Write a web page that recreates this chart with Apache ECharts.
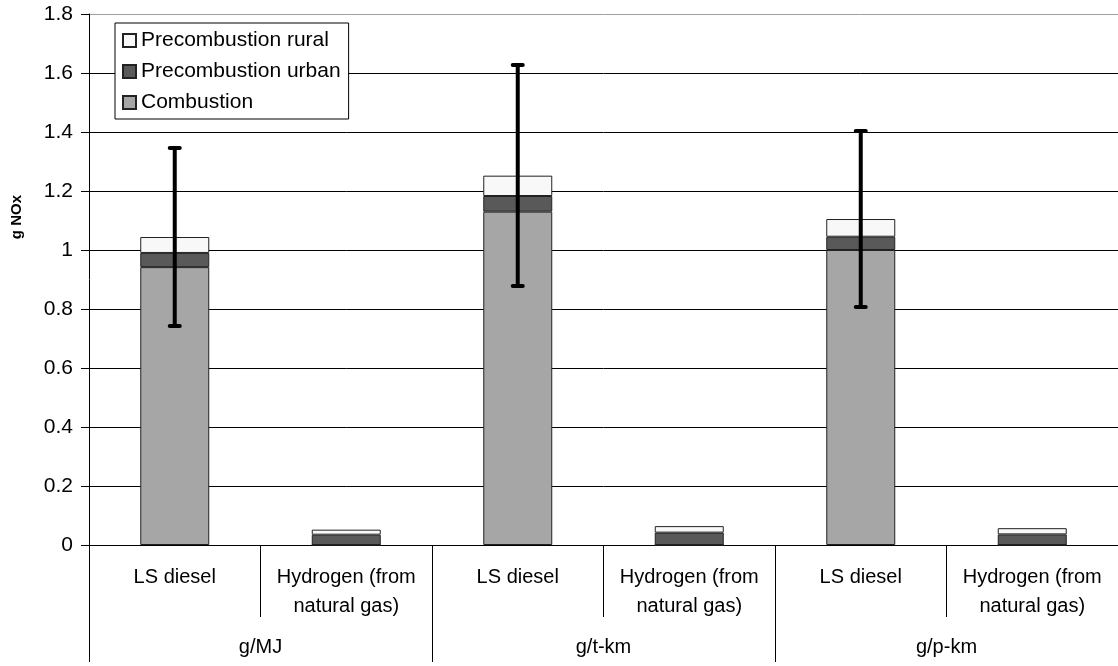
<!DOCTYPE html>
<html>
<head>
<meta charset="utf-8">
<script src="https://cdn.jsdelivr.net/npm/echarts@6/dist/echarts.min.js"></script>
<style>html,body{margin:0;padding:0;background:#fff}#c{width:1118px;height:666px}</style>
</head>
<body>
<div id="c"></div>
<script>
const categories = ['LS diesel', 'Hydrogen (from\nnatural gas)', 'LS diesel', 'Hydrogen (from\nnatural gas)', 'LS diesel', 'Hydrogen (from\nnatural gas)'];
const groups = ['g/MJ', 'g/t-km', 'g/p-km'];
const combustion = [0.942, 0, 1.130, 0, 1.000, 0];
const precombUrban = [0.048, 0.035, 0.053, 0.042, 0.045, 0.036];
const precombRural = [0.054, 0.017, 0.069, 0.022, 0.060, 0.021];
const errLow = [0.742, null, 0.878, null, 0.807, null];
const errHigh = [1.346, null, 1.627, null, 1.403, null];
const yTicks = [0, 0.2, 0.4, 0.6, 0.8, 1, 1.2, 1.4, 1.6, 1.8];

const font = 'Liberation Sans, Arial, sans-serif';
const chart = echarts.init(document.getElementById('c'), null, {renderer: 'canvas'});

const errData = categories.map((c, i) => [i, errLow[i], errHigh[i]]).filter(d => d[1] != null);

const barStyle = (color) => ({color: color, borderColor: '#222', borderWidth: 1});

chart.setOption({
  animation: false,
  backgroundColor: '#fff',
  textStyle: {fontFamily: font},
  grid: {left: 89, right: 0, top: 14, bottom: 121, containLabel: false},
  legend: {
    left: 115, top: 23, orient: 'vertical',
    data: ['Precombustion rural', 'Precombustion urban', 'Combustion'],
    itemWidth: 13, itemHeight: 13, itemGap: 10,
    icon: 'rect',
    backgroundColor: '#fff', borderColor: '#000', borderWidth: 1,
    padding: [7, 8, 6, 7],
    textStyle: {fontFamily: font, fontSize: 21, color: '#000', lineHeight: 20}
  },
  graphic: [{
    type: 'text', left: 9, top: 195, rotation: Math.PI / 2,
    style: {text: 'g NOx', fontFamily: font, fontSize: 15, fontWeight: 'bold', fill: '#000'}
  }],
  xAxis: [{
    type: 'category', data: categories, position: 'bottom',
    axisLine: {show: true, lineStyle: {color: '#000', width: 1}},
    axisTick: {show: true, interval: 0, length: 72, lineStyle: {color: '#000'}},
    axisLabel: {interval: 0, margin: 18, fontFamily: font, fontSize: 20, color: '#000', lineHeight: 29},
    splitLine: {show: false}
  }, {
    type: 'category', data: groups, position: 'bottom',
    axisLine: {show: false},
    axisTick: {show: true, interval: 0, length: 117, lineStyle: {color: '#000'}},
    axisLabel: {interval: 0, margin: 91, fontFamily: font, fontSize: 20, color: '#000', lineHeight: 22},
    splitLine: {show: false}
  }],
  yAxis: {
    type: 'value', min: yTicks[0], max: yTicks[yTicks.length - 1], interval: 0.2,
    axisLine: {show: true, lineStyle: {color: '#000'}},
    axisTick: {show: true, length: 8, lineStyle: {color: '#000'}},
    axisLabel: {margin: 16, fontFamily: font, fontSize: 21, color: '#000'},
    splitLine: {show: true, lineStyle: {color: ['#000','#000','#000','#000','#000','#000','#000','#000','#000','#a0a0a0'], width: 1}}
  },
  series: [
    {name: 'Combustion', type: 'bar', stack: 'a', data: combustion, barWidth: 69, itemStyle: barStyle('#a6a6a6')},
    {name: 'Precombustion urban', type: 'bar', stack: 'a', data: precombUrban, barWidth: 69, itemStyle: barStyle('#595959')},
    {name: 'Precombustion rural', type: 'bar', stack: 'a', data: precombRural, barWidth: 69, itemStyle: barStyle('#f8f8f8')},
    {
      name: 'err', type: 'custom', xAxisIndex: 0, yAxisIndex: 0, z: 10,
      data: errData,
      encode: {x: 0, y: [1, 2]},
      renderItem: function (params, api) {
        const lo = api.coord([api.value(0), api.value(1)]);
        const hi = api.coord([api.value(0), api.value(2)]);
        const w = 5;
        const st = {stroke: '#000', lineWidth: 4, lineCap: 'round'};
        return {type: 'group', children: [
          {type: 'line', shape: {x1: lo[0], y1: lo[1], x2: hi[0], y2: hi[1]}, style: {stroke: '#000', lineWidth: 4}},
          {type: 'line', shape: {x1: lo[0] - w, y1: lo[1], x2: lo[0] + w, y2: lo[1]}, style: st},
          {type: 'line', shape: {x1: hi[0] - w, y1: hi[1], x2: hi[0] + w, y2: hi[1]}, style: st}
        ]};
      }
    }
  ]
});
</script>
</body>
</html>
